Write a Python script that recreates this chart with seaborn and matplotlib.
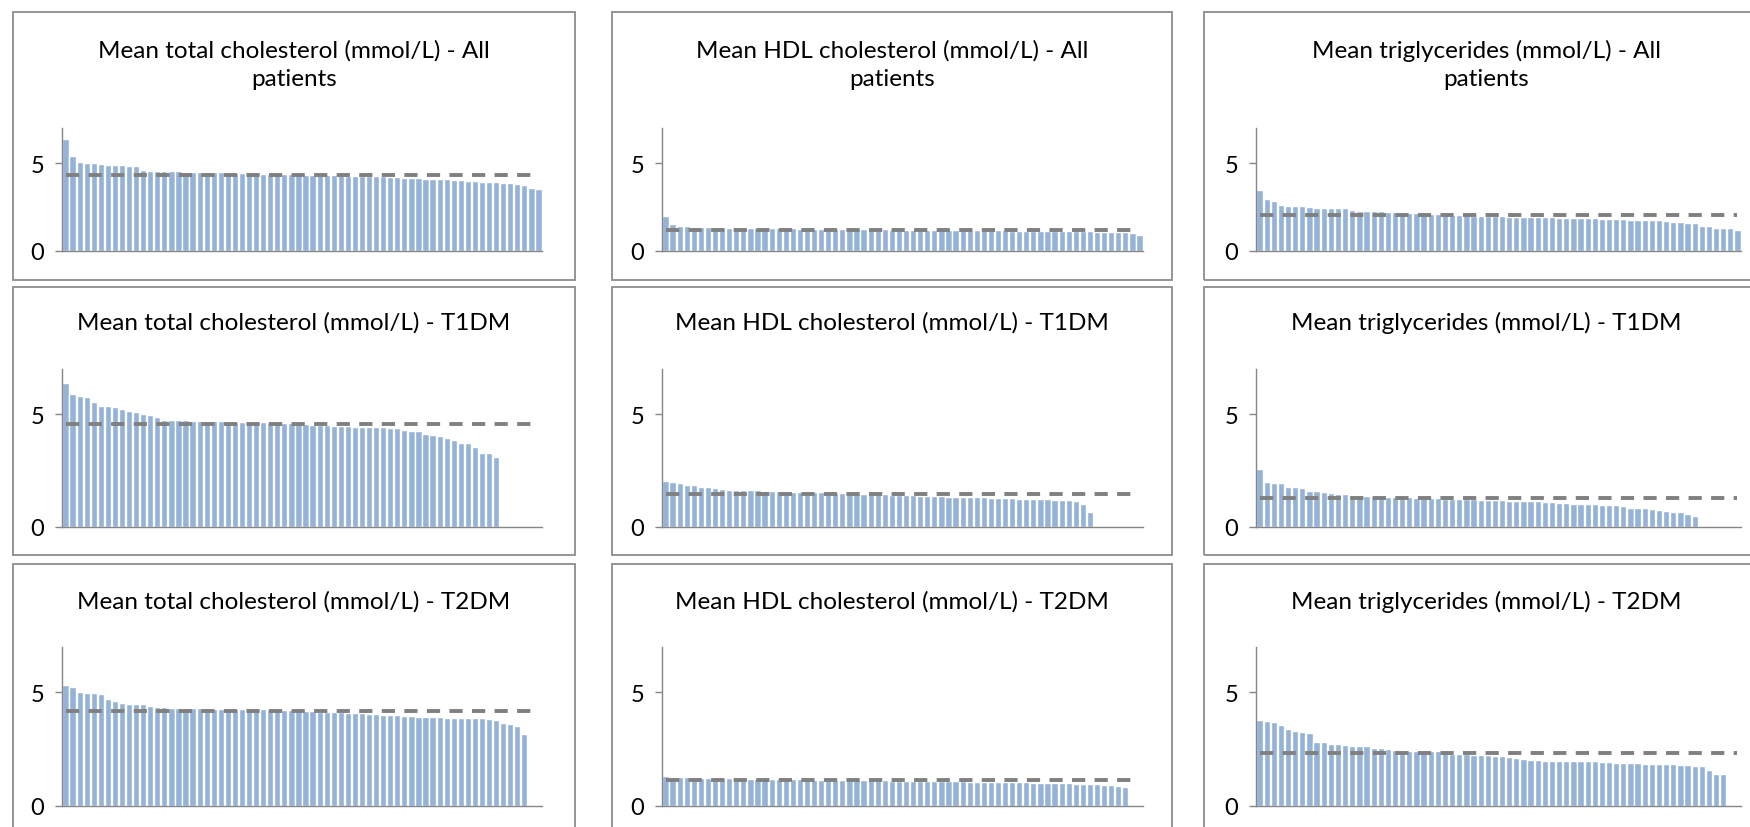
import numpy as np
import matplotlib
matplotlib.use("Agg")
import matplotlib.pyplot as plt
from matplotlib.patches import Rectangle
import seaborn as sns

sns.set_style("white")
plt.rcParams["font.family"] = ["Lato", "DejaVu Sans"]

# ---- data (sorted descending, one bar per centre) ----
n_slots = 68

tc_all = [6.35, 5.43, 5.08, 5.03, 5.00, 4.94, 4.89, 4.89, 4.87, 4.82,
          4.81, 4.63, 4.58, 4.56, 4.55, 4.54, 4.53, 4.52, 4.52, 4.51,
          4.50, 4.49, 4.48, 4.46, 4.45, 4.43, 4.42, 4.41, 4.40, 4.39,
          4.38, 4.37, 4.37, 4.36, 4.35, 4.34, 4.33, 4.32, 4.31, 4.30,
          4.29, 4.28, 4.27, 4.26, 4.25, 4.24, 4.22, 4.21, 4.15, 4.14,
          4.13, 4.12, 4.10, 4.09, 4.08, 4.06, 4.03, 4.00, 3.97, 3.93,
          3.92, 3.91, 3.89, 3.85, 3.80, 3.76, 3.58, 3.55]
hdl_all = [2.00, 1.54, 1.45, 1.41, 1.38, 1.36, 1.35, 1.35, 1.34, 1.33,
           1.33, 1.32, 1.32, 1.31, 1.31, 1.30, 1.30, 1.29, 1.29, 1.28,
           1.28, 1.27, 1.27, 1.26, 1.26, 1.25, 1.25, 1.24, 1.24, 1.24,
           1.23, 1.23, 1.22, 1.22, 1.22, 1.21, 1.21, 1.20, 1.20, 1.20,
           1.19, 1.19, 1.19, 1.18, 1.18, 1.18, 1.17, 1.17, 1.17, 1.16,
           1.16, 1.16, 1.15, 1.15, 1.15, 1.14, 1.14, 1.13, 1.13, 1.12,
           1.12, 1.10, 1.09, 1.08, 1.08, 1.07, 1.05, 0.92]
tg_all = [3.48, 2.96, 2.85, 2.62, 2.58, 2.57, 2.56, 2.52, 2.45, 2.44,
          2.44, 2.43, 2.42, 2.31, 2.29, 2.28, 2.27, 2.25, 2.23, 2.21,
          2.19, 2.17, 2.15, 2.13, 2.12, 2.10, 2.08, 2.07, 2.05, 2.04,
          2.02, 2.01, 2.00, 1.99, 1.97, 1.96, 1.96, 1.95, 1.94, 1.93,
          1.92, 1.91, 1.90, 1.89, 1.88, 1.87, 1.86, 1.85, 1.84, 1.83,
          1.82, 1.80, 1.79, 1.78, 1.77, 1.76, 1.75, 1.73, 1.66, 1.64,
          1.62, 1.60, 1.43, 1.41, 1.33, 1.32, 1.31, 1.17]

tc_t1 = [6.37, 5.91, 5.79, 5.74, 5.54, 5.38, 5.38, 5.31, 5.22, 5.13,
         5.10, 5.01, 4.96, 4.88, 4.76, 4.73, 4.72, 4.72, 4.71, 4.70,
         4.70, 4.69, 4.68, 4.68, 4.67, 4.66, 4.66, 4.65, 4.64, 4.63,
         4.62, 4.61, 4.60, 4.58, 4.56, 4.54, 4.52, 4.50, 4.49, 4.48,
         4.47, 4.45, 4.44, 4.43, 4.42, 4.41, 4.40, 4.39, 4.28, 4.27,
         4.26, 4.10, 4.09, 4.05, 3.94, 3.87, 3.71, 3.70, 3.55, 3.30,
         3.26, 3.09]
hdl_t1 = [2.03, 2.01, 1.97, 1.86, 1.85, 1.79, 1.78, 1.72, 1.68, 1.66,
          1.65, 1.64, 1.63, 1.62, 1.61, 1.60, 1.59, 1.58, 1.57, 1.56,
          1.55, 1.54, 1.53, 1.52, 1.51, 1.50, 1.49, 1.48, 1.47, 1.46,
          1.45, 1.44, 1.43, 1.42, 1.41, 1.40, 1.39, 1.38, 1.37, 1.36,
          1.35, 1.35, 1.34, 1.33, 1.32, 1.31, 1.30, 1.29, 1.28, 1.27,
          1.26, 1.25, 1.24, 1.23, 1.22, 1.21, 1.20, 1.19, 1.13, 1.03,
          0.68]
tg_t1 = [2.56, 1.99, 1.97, 1.93, 1.79, 1.77, 1.74, 1.61, 1.60, 1.56,
         1.49, 1.46, 1.45, 1.41, 1.38, 1.37, 1.36, 1.35, 1.34, 1.33,
         1.32, 1.31, 1.30, 1.29, 1.28, 1.27, 1.26, 1.25, 1.24, 1.23,
         1.22, 1.21, 1.20, 1.19, 1.18, 1.17, 1.16, 1.15, 1.14, 1.13,
         1.12, 1.10, 1.08, 1.06, 1.04, 1.02, 1.01, 1.00, 0.99, 0.97,
         0.96, 0.94, 0.86, 0.84, 0.82, 0.81, 0.75, 0.73, 0.66, 0.65,
         0.57, 0.49]

tc_t2 = [5.32, 5.22, 5.04, 4.97, 4.96, 4.91, 4.72, 4.63, 4.52, 4.51,
         4.50, 4.49, 4.39, 4.35, 4.34, 4.33, 4.33, 4.32, 4.31, 4.30,
         4.29, 4.29, 4.28, 4.28, 4.27, 4.27, 4.26, 4.26, 4.25, 4.25,
         4.24, 4.23, 4.22, 4.21, 4.20, 4.18, 4.16, 4.15, 4.14, 4.12,
         4.10, 4.09, 4.08, 4.06, 4.04, 4.01, 4.00, 3.99, 3.97, 3.95,
         3.94, 3.93, 3.92, 3.91, 3.89, 3.88, 3.87, 3.87, 3.86, 3.86,
         3.85, 3.80, 3.64, 3.62, 3.52, 3.19]
hdl_t2 = [1.30, 1.29, 1.29, 1.27, 1.26, 1.25, 1.24, 1.23, 1.22, 1.22,
          1.21, 1.21, 1.20, 1.20, 1.19, 1.19, 1.18, 1.18, 1.17, 1.17,
          1.16, 1.16, 1.16, 1.15, 1.15, 1.15, 1.14, 1.14, 1.14, 1.13,
          1.13, 1.13, 1.12, 1.12, 1.12, 1.11, 1.11, 1.10, 1.10, 1.09,
          1.09, 1.08, 1.08, 1.07, 1.07, 1.06, 1.06, 1.05, 1.05, 1.05,
          1.04, 1.04, 1.03, 1.03, 1.02, 1.02, 1.01, 1.00, 0.99, 0.98,
          0.96, 0.95, 0.94, 0.92, 0.90, 0.85]
tg_t2 = [3.79, 3.73, 3.68, 3.55, 3.41, 3.32, 3.27, 3.20, 2.82, 2.81,
         2.73, 2.72, 2.69, 2.65, 2.64, 2.62, 2.57, 2.56, 2.49, 2.47,
         2.45, 2.44, 2.43, 2.42, 2.41, 2.40, 2.39, 2.31, 2.30, 2.29,
         2.26, 2.25, 2.24, 2.22, 2.21, 2.16, 2.12, 2.06, 2.04, 2.01,
         2.00, 1.99, 1.98, 1.98, 1.97, 1.97, 1.96, 1.96, 1.95, 1.94,
         1.91, 1.90, 1.89, 1.88, 1.87, 1.86, 1.85, 1.84, 1.83, 1.80,
         1.79, 1.78, 1.77, 1.59, 1.42, 1.39]

# national means (dashed lines)
mean_vals = [[4.31, 1.22, 2.05],
             [4.57, 1.45, 1.30],
             [4.17, 1.13, 2.32]]

series = [[tc_all, hdl_all, tg_all],
          [tc_t1, hdl_t1, tg_t1],
          [tc_t2, hdl_t2, tg_t2]]

measures = ["Mean total cholesterol (mmol/L)", "Mean HDL cholesterol (mmol/L)",
            "Mean triglycerides (mmol/L)"]
groups = ["All\npatients", "T1DM", "T2DM"]

# ---- layout (pixels) ----
W, H = 1750, 828
ax_x0 = [62, 662, 1256]
ax_x1 = [542, 1143, 1741]
ax_top = [129, 370, 648]
ax_bot = [252, 528, 807]
box_x = [(13, 575), (612, 1172), (1204, 1768)]
box_y = [(13, 281), (288, 556), (565, 840)]
title_y = [65, 323, 602]

bar_col = "#95B3D7"
line_col = "#808080"
axis_col = "#868686"

fig = plt.figure(figsize=(W / 100, H / 100), dpi=100)

for r in range(3):
    for c in range(3):
        bx0, bx1 = box_x[c]
        by0, by1 = box_y[r]
        fig.add_artist(Rectangle((bx0 / W, 1 - by1 / H), (bx1 - bx0) / W, (by1 - by0) / H,
                                 transform=fig.transFigure, fill=False,
                                 edgecolor="#8c8c8c", linewidth=1.3))

        ax = fig.add_axes([ax_x0[c] / W, 1 - ax_bot[r] / H,
                           (ax_x1[c] - ax_x0[c]) / W, (ax_bot[r] - ax_top[r]) / H])
        vals = series[r][c]
        sns.barplot(x=list(range(len(vals))), y=vals, color=bar_col, saturation=1,
                    width=0.88, ax=ax)
        ax.plot(range(n_slots), [mean_vals[r][c]] * n_slots, color=line_col,
                linewidth=2.8, dashes=(3.4, 2.4), solid_capstyle="butt")
        ax.set_xlim(-0.5, n_slots - 0.5)
        ax.set_ylim(0, 7)
        ax.set_yticks([0, 5])
        ax.set_yticklabels(["0", "5"])
        ax.set_xticks([])
        ax.set_xlabel("")
        ax.set_ylabel("")
        for s in ["top", "right"]:
            ax.spines[s].set_visible(False)
        for s in ["left", "bottom"]:
            ax.spines[s].set_color(axis_col)
            ax.spines[s].set_linewidth(1.0)
        ax.tick_params(axis="y", length=5, width=1, color=axis_col, pad=8,
                       labelsize=17, labelcolor="black", left=True)
        ax.patch.set_alpha(0)

        fig.text((bx0 + bx1) / 2 / W, 1 - title_y[r] / H,
                 f"{measures[c]} - {groups[r]}", ha="center", va="center",
                 fontsize=17.5, linespacing=1.42, color="black")

fig.savefig("out.png", dpi=100)
